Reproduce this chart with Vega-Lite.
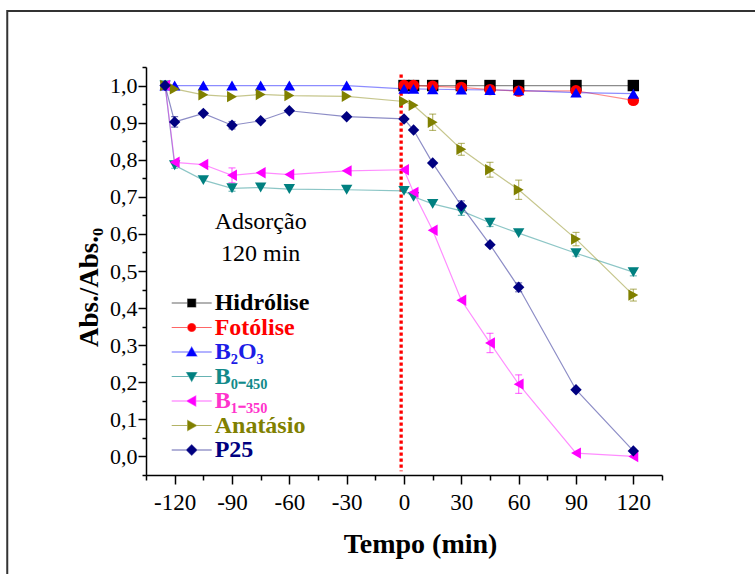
{
  "$schema": "https://vega.github.io/schema/vega-lite/v6.json",
  "width": 516,
  "height": 408,
  "autosize": {"type": "none"},
  "padding": {"left": 146, "top": 67, "right": 93, "bottom": 99},
  "background": "white",
  "config": {
    "view": {"stroke": null},
    "font": "Liberation Serif",
    "text": {"font": "Liberation Serif"},
    "axis": {
      "grid": false,
      "domainColor": "#000000",
      "domainWidth": 1.5,
      "tickColor": "#000000",
      "tickWidth": 1.5,
      "labelColor": "#000000",
      "labelFont": "Liberation Serif",
      "labelFontSize": 22,
      "titleFont": "Liberation Serif",
      "titleFontWeight": "bold",
      "titleColor": "#000000",
      "labelOverlap": false,
      "labelFlush": false
    }
  },
  "datasets": {
    "main": [
      {"series": "Hidrólise", "t": 0, "v": 1.0, "err": 0},
      {"series": "Hidrólise", "t": 5, "v": 1.0, "err": 0},
      {"series": "Hidrólise", "t": 15, "v": 1.0, "err": 0},
      {"series": "Hidrólise", "t": 30, "v": 1.0, "err": 0},
      {"series": "Hidrólise", "t": 45, "v": 1.0, "err": 0},
      {"series": "Hidrólise", "t": 60, "v": 1.0, "err": 0},
      {"series": "Hidrólise", "t": 90, "v": 1.0, "err": 0},
      {"series": "Hidrólise", "t": 120, "v": 1.0, "err": 0},
      {"series": "Fotólise", "t": 0, "v": 1.0, "err": 0},
      {"series": "Fotólise", "t": 5, "v": 1.0, "err": 0},
      {"series": "Fotólise", "t": 15, "v": 0.998, "err": 0},
      {"series": "Fotólise", "t": 30, "v": 0.995, "err": 0},
      {"series": "Fotólise", "t": 45, "v": 0.989, "err": 0},
      {"series": "Fotólise", "t": 60, "v": 0.985, "err": 0},
      {"series": "Fotólise", "t": 90, "v": 0.986, "err": 0},
      {"series": "Fotólise", "t": 120, "v": 0.96, "err": 0},
      {"series": "B₂O₃", "t": -125, "v": 1.0, "err": 0},
      {"series": "B₂O₃", "t": -120, "v": 1.0, "err": 0},
      {"series": "B₂O₃", "t": -105, "v": 1.0, "err": 0},
      {"series": "B₂O₃", "t": -90, "v": 1.0, "err": 0},
      {"series": "B₂O₃", "t": -75, "v": 1.0, "err": 0},
      {"series": "B₂O₃", "t": -60, "v": 1.0, "err": 0},
      {"series": "B₂O₃", "t": -30, "v": 1.0, "err": 0},
      {"series": "B₂O₃", "t": 0, "v": 0.991, "err": 0},
      {"series": "B₂O₃", "t": 5, "v": 0.991, "err": 0},
      {"series": "B₂O₃", "t": 15, "v": 0.99, "err": 0.008},
      {"series": "B₂O₃", "t": 30, "v": 0.989, "err": 0.008},
      {"series": "B₂O₃", "t": 45, "v": 0.988, "err": 0.01},
      {"series": "B₂O₃", "t": 60, "v": 0.987, "err": 0.008},
      {"series": "B₂O₃", "t": 90, "v": 0.981, "err": 0.01},
      {"series": "B₂O₃", "t": 120, "v": 0.978, "err": 0},
      {"series": "B₀₋₄₅₀", "t": -125, "v": 1.0, "err": 0},
      {"series": "B₀₋₄₅₀", "t": -120, "v": 0.785, "err": 0.008},
      {"series": "B₀₋₄₅₀", "t": -105, "v": 0.745, "err": 0},
      {"series": "B₀₋₄₅₀", "t": -90, "v": 0.723, "err": 0.008},
      {"series": "B₀₋₄₅₀", "t": -75, "v": 0.725, "err": 0},
      {"series": "B₀₋₄₅₀", "t": -60, "v": 0.721, "err": 0},
      {"series": "B₀₋₄₅₀", "t": -30, "v": 0.719, "err": 0},
      {"series": "B₀₋₄₅₀", "t": 0, "v": 0.716, "err": 0},
      {"series": "B₀₋₄₅₀", "t": 5, "v": 0.7, "err": 0},
      {"series": "B₀₋₄₅₀", "t": 15, "v": 0.681, "err": 0},
      {"series": "B₀₋₄₅₀", "t": 30, "v": 0.662, "err": 0.012},
      {"series": "B₀₋₄₅₀", "t": 45, "v": 0.63, "err": 0.01},
      {"series": "B₀₋₄₅₀", "t": 60, "v": 0.602, "err": 0},
      {"series": "B₀₋₄₅₀", "t": 90, "v": 0.548, "err": 0.008},
      {"series": "B₀₋₄₅₀", "t": 120, "v": 0.497, "err": 0.01},
      {"series": "B₁₋₃₅₀", "t": -125, "v": 1.0, "err": 0},
      {"series": "B₁₋₃₅₀", "t": -120, "v": 0.793, "err": 0},
      {"series": "B₁₋₃₅₀", "t": -105, "v": 0.787, "err": 0},
      {"series": "B₁₋₃₅₀", "t": -90, "v": 0.758, "err": 0.02},
      {"series": "B₁₋₃₅₀", "t": -75, "v": 0.765, "err": 0},
      {"series": "B₁₋₃₅₀", "t": -60, "v": 0.76, "err": 0},
      {"series": "B₁₋₃₅₀", "t": -30, "v": 0.77, "err": 0},
      {"series": "B₁₋₃₅₀", "t": 0, "v": 0.773, "err": 0},
      {"series": "B₁₋₃₅₀", "t": 5, "v": 0.712, "err": 0},
      {"series": "B₁₋₃₅₀", "t": 15, "v": 0.61, "err": 0},
      {"series": "B₁₋₃₅₀", "t": 30, "v": 0.421, "err": 0},
      {"series": "B₁₋₃₅₀", "t": 45, "v": 0.306, "err": 0.026},
      {"series": "B₁₋₃₅₀", "t": 60, "v": 0.195, "err": 0.025},
      {"series": "B₁₋₃₅₀", "t": 90, "v": 0.009, "err": 0},
      {"series": "B₁₋₃₅₀", "t": 120, "v": 0.0, "err": 0},
      {"series": "Anatásio", "t": -125, "v": 1.0, "err": 0},
      {"series": "Anatásio", "t": -120, "v": 0.991, "err": 0},
      {"series": "Anatásio", "t": -105, "v": 0.975, "err": 0},
      {"series": "Anatásio", "t": -90, "v": 0.97, "err": 0},
      {"series": "Anatásio", "t": -75, "v": 0.976, "err": 0},
      {"series": "Anatásio", "t": -60, "v": 0.973, "err": 0},
      {"series": "Anatásio", "t": -30, "v": 0.971, "err": 0},
      {"series": "Anatásio", "t": 0, "v": 0.957, "err": 0},
      {"series": "Anatásio", "t": 5, "v": 0.947, "err": 0},
      {"series": "Anatásio", "t": 15, "v": 0.901, "err": 0.022},
      {"series": "Anatásio", "t": 30, "v": 0.828, "err": 0.016},
      {"series": "Anatásio", "t": 45, "v": 0.773, "err": 0.02},
      {"series": "Anatásio", "t": 60, "v": 0.719, "err": 0.026},
      {"series": "Anatásio", "t": 90, "v": 0.586, "err": 0.018},
      {"series": "Anatásio", "t": 120, "v": 0.435, "err": 0.016},
      {"series": "P25", "t": -125, "v": 1.0, "err": 0},
      {"series": "P25", "t": -120, "v": 0.902, "err": 0.014},
      {"series": "P25", "t": -105, "v": 0.925, "err": 0},
      {"series": "P25", "t": -90, "v": 0.893, "err": 0.01},
      {"series": "P25", "t": -75, "v": 0.905, "err": 0},
      {"series": "P25", "t": -60, "v": 0.932, "err": 0},
      {"series": "P25", "t": -30, "v": 0.916, "err": 0},
      {"series": "P25", "t": 0, "v": 0.91, "err": 0},
      {"series": "P25", "t": 5, "v": 0.88, "err": 0},
      {"series": "P25", "t": 15, "v": 0.791, "err": 0},
      {"series": "P25", "t": 30, "v": 0.676, "err": 0.013},
      {"series": "P25", "t": 45, "v": 0.571, "err": 0},
      {"series": "P25", "t": 60, "v": 0.456, "err": 0.012},
      {"series": "P25", "t": 90, "v": 0.18, "err": 0},
      {"series": "P25", "t": 120, "v": 0.015, "err": 0}
    ],
    "notes": [
      {"label": "Adsorção", "t": -75, "v": 0.613},
      {"label": "120 min", "t": -75, "v": 0.528}
    ],
    "frame": [
      {"t": -207.6, "t2": 400, "v": 1.201, "v2": -1}
    ],
    "start": [
      {"t": -1.5, "v": 1.03, "v2": -0.04}
    ]
  },
  "encoding": {
    "x": {
      "field": "t", "type": "quantitative",
      "scale": {"domain": [-135, 135], "nice": false, "zero": false},
      "axis": {
        "values": [-135, -120, -105, -90, -75, -60, -45, -30, -15, 0, 15, 30, 45, 60, 75, 90, 105, 120, 135],
        "labelExpr": "datum.value % 30 == 0 ? '' + datum.value : ''",
        "tickSize": {"condition": {"test": "datum.value % 30 == 0", "value": 9}, "value": 5},
        "labelPadding": 7,
        "labelFontSize": 23,
        "title": "Tempo (min)",
        "titleFontSize": 28,
        "titleX": 274,
        "titleY": 77,
        "titleBaseline": "alphabetic"
      }
    },
    "y": {
      "field": "v", "type": "quantitative",
      "scale": {"domain": [-0.05, 1.05], "nice": false, "zero": false},
      "axis": {
        "values": [-0.05, 0, 0.05, 0.1, 0.15, 0.2, 0.25, 0.3, 0.35, 0.4, 0.45, 0.5, 0.55, 0.6, 0.65, 0.7, 0.75, 0.8, 0.85, 0.9, 0.95, 1.0, 1.05],
        "labelExpr": "round(datum.value * 20) % 2 == 0 ? replace(format(datum.value, '.1f'), '.', ',') : ''",
        "tickSize": {"condition": {"test": "round(datum.value * 20) % 2 == 0", "value": 8}, "value": 4},
        "labelPadding": 1,
        "title": "Abs./Abs.₀",
        "titleFontSize": 27,
        "titleX": -49,
        "titleY": 220,
        "titleBaseline": "alphabetic",
        "titleAlign": "center"
      }
    }
  },
  "layer": [
    {
      "data": {"name": "frame"},
      "mark": {"type": "rect", "fill": null, "stroke": "#333333", "strokeWidth": 2, "clip": false},
      "encoding": {
        "x2": {"field": "t2"},
        "y2": {"field": "v2"}
      }
    },
    {
      "data": {"name": "start"},
      "mark": {"type": "rule", "color": "#ff0000", "strokeWidth": 3.3, "strokeDash": [3.3, 2.7]},
      "encoding": {
        "y2": {"field": "v2"}
      }
    },
    {
      "data": {"name": "main"},
      "mark": {"type": "line", "strokeWidth": 1.2, "opacity": 0.45},
      "encoding": {
        "color": {
          "field": "series", "type": "nominal",
          "scale": {
            "domain": ["Hidrólise", "Fotólise", "B₂O₃", "B₀₋₄₅₀", "B₁₋₃₅₀", "Anatásio", "P25"],
            "range": ["#000000", "#ff0000", "#0000ff", "#008080", "#ff00ff", "#808000", "#000080"]
          }
        }
      }
    },
    {
      "data": {"name": "main"},
      "transform": [{"filter": "datum.err > 0"}],
      "mark": {"type": "errorbar", "ticks": {"size": 7}, "thickness": 1.2},
      "encoding": {
        "yError": {"field": "err"},
        "color": {"field": "series", "type": "nominal"},
        "opacity": {"value": 0.55}
      }
    },
    {
      "data": {"name": "main"},
      "mark": {
        "type": "point", "filled": true, "size": 130, "opacity": 1,
        "shape": {"expr": "datum.series == 'Hidrólise' ? 'square' : datum.series == 'Fotólise' ? 'circle' : datum.series == 'B₂O₃' ? 'triangle-up' : datum.series == 'B₀₋₄₅₀' ? 'triangle-down' : datum.series == 'B₁₋₃₅₀' ? 'triangle-left' : datum.series == 'Anatásio' ? 'triangle-right' : 'diamond'"}
      },
      "encoding": {
        "color": {
          "field": "series", "type": "nominal",
          "legend": {
            "title": null,
            "orient": "none",
            "legendX": 33.7,
            "legendY": 224,
            "padding": 0,
            "symbolSize": 64,
            "symbolOpacity": 1,
            "symbolStrokeWidth": 1.2,
            "labelFont": "Liberation Serif",
            "labelFontSize": 24,
            "labelFontWeight": "bold",
            "labelOffset": 11,
            "labelLimit": 400,
            "rowPadding": 0.5,
            "encode": {
              "symbols": {
                "update": {
                  "shape": {"signal": "['M-5,0H5M-1,-1H1V1H-1Z', 'M-5,0H5M1,0A1,1,0,1,1,-1,0A1,1,0,1,1,1,0Z', 'M-5,0H5M0,-1.2L1.25,1L-1.25,1Z', 'M-5,0H5M0,1.2L1.25,-1L-1.25,-1Z', 'M-5,0H5M-1.2,0L1,-1.25L1,1.25Z', 'M-5,0H5M1.2,0L-1,-1.25L-1,1.25Z', 'M-5,0H5M0,-1.3L1.3,0L0,1.3L-1.3,0Z'][datum.index]"},
                  "fill": {"signal": "['#000000', '#ff0000', '#0000ff', '#008080', '#ff00ff', '#808000', '#000080'][datum.index]"},
                  "stroke": {"signal": "['#000000', '#ff0000', '#0000ff', '#008080', '#ff00ff', '#808000', '#000080'][datum.index]"},
                  "strokeOpacity": {"value": 0.6},
                  "fillOpacity": {"value": 1},
                  "opacity": {"value": 1}
                }
              },
              "labels": {
                "update": {
                  "fill": {"signal": "['#000000', '#ff0000', '#1c1ce6', '#128a8a', '#ff33cc', '#808000', '#000080'][datum.index]"}
                }
              }
            }
          }
        }
      }
    },
    {
      "data": {"name": "notes"},
      "mark": {"type": "text", "fontSize": 24, "font": "Liberation Serif", "fontWeight": "normal", "align": "center", "baseline": "alphabetic", "color": "#000000"},
      "encoding": {
        "text": {"field": "label"}
      }
    }
  ]
}
